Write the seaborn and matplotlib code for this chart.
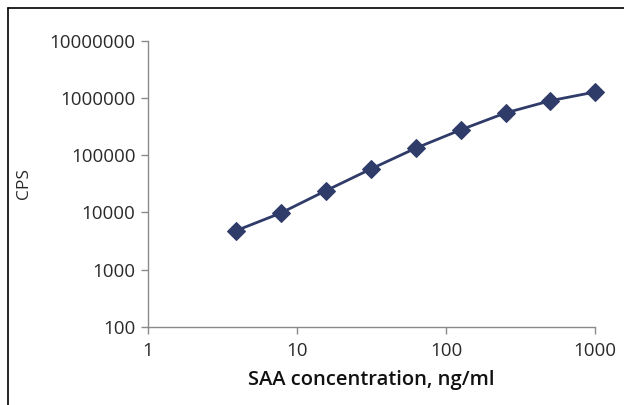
import pandas as pd
import numpy as np
import matplotlib
matplotlib.use('Agg')
import matplotlib.pyplot as plt
import seaborn as sns
from matplotlib.lines import Line2D
from matplotlib.ticker import FixedLocator, FixedFormatter, NullLocator

sns.set_style('white')
plt.rcParams['font.family'] = ['Open Sans', 'DejaVu Sans']

# SAA standard curve
conc = [3.9, 7.8, 15.6, 31.25, 62.5, 125, 250, 500, 1000]
cps = [4800, 9800, 24000, 57500, 133000, 278000, 550000, 900000, 1280000]
x_ticks = [1, 10, 100, 1000]
y_ticks = [100, 1000, 10000, 100000, 1000000, 10000000]

df = pd.DataFrame({'conc': conc, 'cps': cps})

line_col = '#2F3B68'
axis_col = '#8A8A8A'
text_col = '#2a2a2a'

fig = plt.figure(figsize=(6.24, 4.05), dpi=100)
ax = fig.add_axes([0.237, 0.193, 0.717, 0.706])

sns.lineplot(data=df, x='conc', y='cps', ax=ax, color=line_col, linewidth=2.0,
             marker='D', markersize=9.3, markeredgecolor=line_col, markerfacecolor=line_col,
             clip_on=False)

ax.set_xscale('log')
ax.set_yscale('log')
ax.set_xlim(1, 1000)
ax.set_ylim(100, 10000000)

ax.xaxis.set_major_locator(FixedLocator(x_ticks))
ax.xaxis.set_major_formatter(FixedFormatter([str(v) for v in x_ticks]))
ax.yaxis.set_major_locator(FixedLocator(y_ticks))
ax.yaxis.set_major_formatter(FixedFormatter([str(v) for v in y_ticks]))
ax.xaxis.set_minor_locator(NullLocator())
ax.yaxis.set_minor_locator(NullLocator())

for side in ['top', 'right']:
    ax.spines[side].set_visible(False)
for side in ['left', 'bottom']:
    ax.spines[side].set_color(axis_col)
    ax.spines[side].set_linewidth(1.0)

ax.tick_params(axis='both', which='major', direction='out', length=5, width=1.0,
               bottom=True, left=True, color=axis_col, labelsize=13.5,
               labelcolor=text_col, pad=4)
ax.tick_params(axis='x', pad=6)

ax.set_xlabel('SAA concentration, ng/ml', fontsize=14.5, fontweight='semibold',
              color='#111111', labelpad=7)
ax.set_ylabel('CPS', fontsize=12.5, color=text_col)
ax.yaxis.set_label_coords(-0.26, 0.5)

# outer frame (top and left edges visible)
fig.add_artist(Line2D([8 / 624, 1.0], [1 - 8 / 405, 1 - 8 / 405], color='black', linewidth=1.2))
fig.add_artist(Line2D([8 / 624, 8 / 624], [0.0, 1 - 8 / 405], color='black', linewidth=1.2))

plt.savefig('out.png', dpi=100)
